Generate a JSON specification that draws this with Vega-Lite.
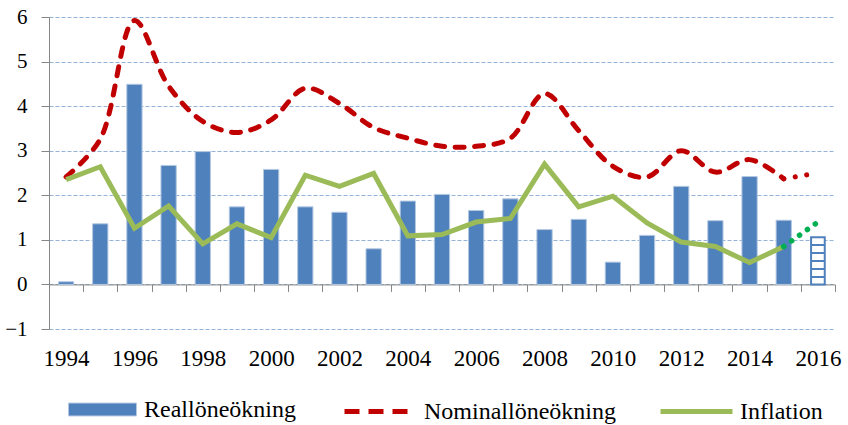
{
  "$schema": "https://vega.github.io/schema/vega-lite/v6.json",
  "width": 786,
  "height": 312,
  "autosize": {"type": "none"},
  "padding": {"left": 49, "top": 17, "right": 13, "bottom": 96},
  "background": "white",
  "data": {
    "values": [
      {"year": 1994, "real": 0.06, "nominal": 2.41, "inflation": 2.35},
      {"year": 1995, "real": 1.36, "nominal": 3.26, "inflation": 2.64},
      {"year": 1996, "real": 4.49, "nominal": 5.92, "inflation": 1.26},
      {"year": 1997, "real": 2.67, "nominal": 4.45, "inflation": 1.76},
      {"year": 1998, "real": 2.98, "nominal": 3.66, "inflation": 0.91},
      {"year": 1999, "real": 1.74, "nominal": 3.41, "inflation": 1.36},
      {"year": 2000, "real": 2.58, "nominal": 3.69, "inflation": 1.05},
      {"year": 2001, "real": 1.74, "nominal": 4.40, "inflation": 2.45},
      {"year": 2002, "real": 1.62, "nominal": 4.06, "inflation": 2.20},
      {"year": 2003, "real": 0.80, "nominal": 3.52, "inflation": 2.49},
      {"year": 2004, "real": 1.87, "nominal": 3.28, "inflation": 1.09},
      {"year": 2005, "real": 2.02, "nominal": 3.10, "inflation": 1.12},
      {"year": 2006, "real": 1.66, "nominal": 3.10, "inflation": 1.40},
      {"year": 2007, "real": 1.92, "nominal": 3.28, "inflation": 1.48},
      {"year": 2008, "real": 1.23, "nominal": 4.28, "inflation": 2.70},
      {"year": 2009, "real": 1.46, "nominal": 3.45, "inflation": 1.74},
      {"year": 2010, "real": 0.50, "nominal": 2.65, "inflation": 1.98},
      {"year": 2011, "real": 1.10, "nominal": 2.41, "inflation": 1.38},
      {"year": 2012, "real": 2.20, "nominal": 3.00, "inflation": 0.95},
      {"year": 2013, "real": 1.43, "nominal": 2.52, "inflation": 0.85},
      {"year": 2014, "real": 2.42, "nominal": 2.80, "inflation": 0.49},
      {"year": 2015, "real": 1.44, "nominal": 2.37, "inflation": 0.85},
      {"year": 2016, "real": 1.06, "nominal": 2.50, "inflation": 1.40}
    ]
  },
  "encoding": {
    "x": {
      "field": "year",
      "type": "ordinal",
      "scale": {"paddingInner": 0, "paddingOuter": 0},
      "axis": {
        "title": null,
        "orient": "bottom",
        "offset": -44.57,
        "domainColor": "#868686",
        "domainWidth": 1,
        "tickColor": "#868686",
        "tickSize": 7,
        "tickWidth": 1,
        "tickBand": "extent",
        "labelAngle": 0,
        "labelExpr": "datum.value % 2 === 0 ? datum.label : ''",
        "labelFont": "Liberation Serif",
        "labelFontSize": 23,
        "labelColor": "black",
        "labelPadding": 56,
        "grid": false
      }
    }
  },
  "layer": [
    {
      "transform": [{"filter": "datum.year <= 2015"}],
      "mark": {"type": "bar", "width": {"band": 0.447}, "stroke": "#B4C8E2", "strokeWidth": 1},
      "encoding": {
        "y": {
          "field": "real",
          "type": "quantitative",
          "scale": {"domain": [-1, 6], "nice": false, "zero": false},
          "axis": {
            "title": null,
            "values": [-1, 0, 1, 2, 3, 4, 5, 6],
            "domainColor": "#868686",
            "tickColor": "#868686",
            "tickSize": 8,
            "labelFont": "Liberation Serif",
            "labelFontSize": 21,
            "labelColor": "black",
            "labelPadding": 14,
            "grid": true,
            "gridColor": "#95B3D7",
            "gridDash": [4, 2],
            "gridWidth": 1
          }
        },
        "fill": {
          "datum": "Reallöneökning",
          "type": "nominal",
          "scale": {"range": ["#4F81BD"]},
          "legend": {
            "title": null,
            "orient": "none",
            "legendX": 19,
            "legendY": 358,
            "padding": 0,
            "symbolType": "M-1,-0.19H1V0.19H-1Z",
            "symbolSize": 4624,
            "symbolStrokeWidth": 1,
            "symbolStrokeColor": "#B4C8E2",
            "symbolOpacity": 1,
            "labelFont": "Liberation Serif",
            "labelFontSize": 24,
            "labelColor": "black",
            "labelOffset": 7,
            "labelLimit": 400
          }
        }
      }
    },
    {
      "transform": [{"filter": "datum.year === 2016"}],
      "mark": {
        "type": "bar",
        "width": {"band": 0.4},
        "stroke": "#4F81BD",
        "strokeWidth": 2,
        "fill": {
          "gradient": "linear",
          "x1": 0, "y1": 0, "x2": 0, "y2": 1,
          "stops": [
            {"offset": 0, "color": "#FFFFFF"},
            {"offset": 0.146, "color": "#FFFFFF"},
            {"offset": 0.146, "color": "#4F81BD"},
            {"offset": 0.188, "color": "#4F81BD"},
            {"offset": 0.188, "color": "#FFFFFF"},
            {"offset": 0.312, "color": "#FFFFFF"},
            {"offset": 0.312, "color": "#4F81BD"},
            {"offset": 0.354, "color": "#4F81BD"},
            {"offset": 0.354, "color": "#FFFFFF"},
            {"offset": 0.479, "color": "#FFFFFF"},
            {"offset": 0.479, "color": "#4F81BD"},
            {"offset": 0.521, "color": "#4F81BD"},
            {"offset": 0.521, "color": "#FFFFFF"},
            {"offset": 0.646, "color": "#FFFFFF"},
            {"offset": 0.646, "color": "#4F81BD"},
            {"offset": 0.688, "color": "#4F81BD"},
            {"offset": 0.688, "color": "#FFFFFF"},
            {"offset": 0.812, "color": "#FFFFFF"},
            {"offset": 0.812, "color": "#4F81BD"},
            {"offset": 0.854, "color": "#4F81BD"},
            {"offset": 0.854, "color": "#FFFFFF"},
            {"offset": 1, "color": "#FFFFFF"}
          ]
        }
      },
      "encoding": {
        "y": {"field": "real", "type": "quantitative"}
      }
    },
    {
      "transform": [{"filter": "datum.year <= 2015"}],
      "mark": {"type": "line", "interpolate": "catmull-rom", "strokeWidth": 5, "strokeDash": [9, 10.5], "strokeCap": "round"},
      "encoding": {
        "y": {"field": "nominal", "type": "quantitative"},
        "stroke": {
          "datum": "Nominallöneökning",
          "type": "nominal",
          "scale": {"range": ["#C00000"]},
          "legend": {
            "title": null,
            "orient": "none",
            "legendX": 293,
            "legendY": 360.5,
            "padding": 0,
            "symbolType": "stroke",
            "symbolSize": 3969,
            "symbolStrokeWidth": 5,
            "symbolDash": [15, 9],
            "symbolStrokeColor": "#C00000",
            "symbolFillColor": "transparent",
            "symbolOpacity": 1,
            "labelFont": "Liberation Serif",
            "labelFontSize": 24,
            "labelColor": "black",
            "labelOffset": 14,
            "labelLimit": 400
          }
        }
      }
    },
    {
      "transform": [{"filter": "datum.year >= 2015"}],
      "mark": {"type": "line", "color": "#C00000", "strokeWidth": 5, "strokeDash": [0.1, 11.5], "strokeCap": "round"},
      "encoding": {
        "y": {"field": "nominal", "type": "quantitative"}
      }
    },
    {
      "transform": [{"filter": "datum.year <= 2015"}],
      "mark": {"type": "line", "strokeWidth": 5},
      "encoding": {
        "y": {"field": "inflation", "type": "quantitative"},
        "color": {
          "datum": "Inflation",
          "type": "nominal",
          "scale": {"range": ["#9BBB59"]},
          "legend": {
            "title": null,
            "orient": "none",
            "legendX": 609,
            "legendY": 356,
            "padding": 0,
            "symbolType": "stroke",
            "symbolSize": 5184,
            "symbolStrokeWidth": 5,
            "symbolStrokeColor": "#9BBB59",
            "symbolFillColor": "transparent",
            "symbolOpacity": 1,
            "labelFont": "Liberation Serif",
            "labelFontSize": 24,
            "labelColor": "black",
            "labelOffset": 5,
            "labelLimit": 400
          }
        }
      }
    },
    {
      "transform": [{"filter": "datum.year >= 2015"}],
      "mark": {"type": "line", "color": "#00B050", "strokeWidth": 5.5, "strokeDash": [0.1, 9.6], "strokeCap": "round"},
      "encoding": {
        "y": {"field": "inflation", "type": "quantitative"}
      }
    }
  ],
  "config": {
    "view": {"stroke": null},
    "axis": {"domainCap": "butt", "labelFont": "Liberation Serif"},
    "legend": {"labelFont": "Liberation Serif"}
  }
}
